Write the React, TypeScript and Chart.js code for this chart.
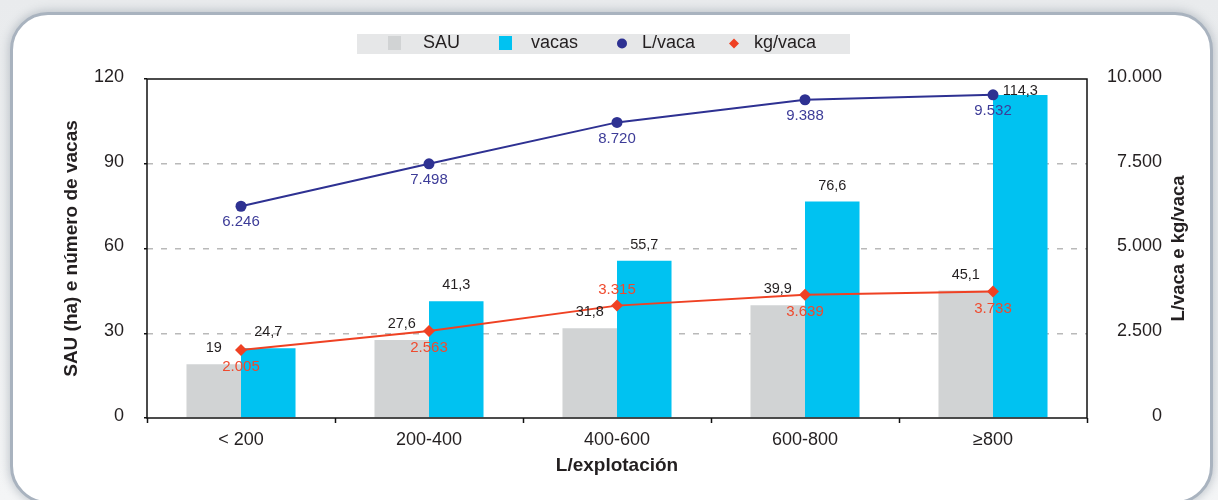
import React, { useEffect, useRef } from "react";
import { Chart, registerables } from "chart.js";

Chart.register(...registerables);

const categories = ["< 200", "200-400", "400-600", "600-800", "≥800"];
const sauValues = [19, 27.6, 31.8, 39.9, 45.1];
const vacasValues = [24.7, 41.3, 55.7, 76.6, 114.3];
const litrosVaca = [6246, 7498, 8720, 9388, 9532];
const kgVaca = [2005, 2563, 3315, 3639, 3733];
const leftTicks = [0, 30, 60, 90, 120];
const rightTicks = [0, 2500, 5000, 7500, 10000];
const kgLabelAbove = [false, false, true, false, false];

const FONT = "'Liberation Sans', Arial, Helvetica, sans-serif";
const TEXT = "#231f20";
const C_SAU = "#d1d3d4";
const C_VACAS = "#00c2f1";
const C_L = "#2e3192";
const C_L_TXT = "#3d3c98";
const C_KG = "#ef4123";
const C_KG_TXT = "#ef4a2e";

const fmtDec = (v: number) => String(v).replace(".", ",");
const fmtThousand = (v: number) =>
  String(Math.round(v)).replace(/\B(?=(\d{3})+(?!\d))/g, ".");

const overlayPlugin = {
  id: "overlay",
  afterDatasetsDraw(chart: any) {
    const ctx = chart.ctx as CanvasRenderingContext2D;
    const area = chart.chartArea;
    ctx.save();
    // plot box
    ctx.strokeStyle = "#111";
    ctx.lineWidth = 1.5;
    ctx.strokeRect(area.left, area.top, area.right - area.left, area.bottom - area.top);

    ctx.textAlign = "center";
    ctx.textBaseline = "middle";
    // bar labels
    ctx.font = `14.5px ${FONT}`;
    ctx.fillStyle = TEXT;
    [0, 1].forEach((di) => {
      const meta = chart.getDatasetMeta(di);
      meta.data.forEach((el: any, i: number) => {
        const v = chart.data.datasets[di].data[i] as number;
        const y = Math.max(el.y - 16, area.top + 12);
        ctx.fillText(fmtDec(v), el.x, y);
      });
    });
    // line labels
    ctx.font = `15px ${FONT}`;
    const mL = chart.getDatasetMeta(2);
    ctx.fillStyle = C_L_TXT;
    mL.data.forEach((el: any, i: number) => {
      ctx.fillText(fmtThousand(chart.data.datasets[2].data[i] as number), el.x, el.y + 16);
    });
    const mK = chart.getDatasetMeta(3);
    ctx.fillStyle = C_KG_TXT;
    mK.data.forEach((el: any, i: number) => {
      const y = kgLabelAbove[i] ? el.y - 16 : el.y + 17;
      ctx.fillText(fmtThousand(chart.data.datasets[3].data[i] as number), el.x, y);
    });
    ctx.restore();
  },
  afterDraw(chart: any) {
    const ctx = chart.ctx as CanvasRenderingContext2D;
    const area = chart.chartArea;
    ctx.save();
    // right axis title (reads bottom to top)
    ctx.translate(1179, (area.top + area.bottom) / 2);
    ctx.rotate(-Math.PI / 2);
    ctx.font = `bold 18.5px ${FONT}`;
    ctx.fillStyle = TEXT;
    ctx.textAlign = "center";
    ctx.textBaseline = "middle";
    ctx.fillText("L/vaca e kg/vaca", 0, 0);
    ctx.restore();

    // legend
    ctx.save();
    ctx.fillStyle = "#e6e7e8";
    ctx.fillRect(357, 34, 493, 20);
    ctx.font = `18px ${FONT}`;
    ctx.textAlign = "left";
    ctx.textBaseline = "alphabetic";
    ctx.fillStyle = C_SAU;
    ctx.fillRect(388, 36, 13, 14);
    ctx.fillStyle = C_VACAS;
    ctx.fillRect(499, 36, 13, 14);
    ctx.fillStyle = C_L;
    ctx.beginPath();
    ctx.arc(622, 43.5, 5, 0, Math.PI * 2);
    ctx.fill();
    ctx.fillStyle = C_KG;
    ctx.beginPath();
    ctx.moveTo(734, 38.5);
    ctx.lineTo(739, 43.5);
    ctx.lineTo(734, 48.5);
    ctx.lineTo(729, 43.5);
    ctx.closePath();
    ctx.fill();
    ctx.fillStyle = TEXT;
    ctx.fillText("SAU", 423, 48);
    ctx.fillText("vacas", 531, 48);
    ctx.fillText("L/vaca", 642, 48);
    ctx.fillText("kg/vaca", 754, 48);
    ctx.restore();
  },
};

export default function App() {
  const ref = useRef<HTMLCanvasElement | null>(null);

  useEffect(() => {
    if (!ref.current) return;
    const chart = new Chart(ref.current, {
      type: "bar",
      data: {
        labels: categories,
        datasets: [
          {
            type: "bar",
            label: "SAU",
            data: sauValues,
            backgroundColor: C_SAU,
            yAxisID: "y",
            order: 2,
          },
          {
            type: "bar",
            label: "vacas",
            data: vacasValues,
            backgroundColor: C_VACAS,
            yAxisID: "y",
            order: 2,
          },
          {
            type: "line",
            label: "L/vaca",
            data: litrosVaca,
            borderColor: C_L,
            backgroundColor: C_L,
            borderWidth: 2,
            pointStyle: "circle",
            pointRadius: 5.5,
            pointBackgroundColor: C_L,
            pointBorderWidth: 0,
            yAxisID: "y1",
            order: 0,
          },
          {
            type: "line",
            label: "kg/vaca",
            data: kgVaca,
            borderColor: C_KG,
            backgroundColor: C_KG,
            borderWidth: 2,
            pointStyle: "rectRot",
            pointRadius: 6,
            pointBackgroundColor: C_KG,
            pointBorderWidth: 0,
            yAxisID: "y1",
            order: 0,
          },
        ] as any,
      },
      options: {
        responsive: false,
        animation: false,
        events: [],
        layout: { padding: { top: 79, left: 0, right: 56, bottom: 0 } },
        plugins: {
          legend: { display: false },
          tooltip: { enabled: false },
        },
        datasets: {
          bar: { categoryPercentage: 0.58, barPercentage: 1.0 },
        } as any,
        scales: {
          x: {
            type: "category",
            offset: true,
            grid: {
              display: true,
              offset: true,
              drawOnChartArea: false,
              drawTicks: true,
              tickLength: 5,
              tickColor: "#111",
              tickWidth: 1.5,
              color: "#111",
            },
            border: { display: false },
            ticks: {
              color: TEXT,
              font: { family: FONT, size: 18 },
              padding: 6,
              maxRotation: 0,
            },
            title: {
              display: true,
              text: "L/explotación",
              color: TEXT,
              font: { family: FONT, size: 19, weight: "bold" },
              padding: { top: 0, bottom: 22.6 },
            },
            afterFit: (s: any) => {
              s.height = 82;
            },
          },
          y: {
            type: "linear",
            position: "left",
            min: 0,
            max: 120,
            afterBuildTicks: (s: any) => {
              s.ticks = leftTicks.map((v) => ({ value: v }));
            },
            grid: {
              color: (c: any) =>
                c.tick && (c.tick.value === 0 || c.tick.value === 120)
                  ? "rgba(0,0,0,0)"
                  : "#b9b9b9",
              lineWidth: 1.5,
              drawTicks: true,
              tickLength: 3,
              tickColor: "#111",
              tickWidth: 1.5,
              tickBorderDash: [],
            } as any,
            border: { display: false, dash: [6, 8] },
            ticks: {
              color: TEXT,
              font: { family: FONT, size: 18 },
              padding: 20,
              labelOffset: -2,
              callback: (v: any) => String(v),
            },
            title: {
              display: true,
              text: "SAU (ha) e número de vacas",
              color: TEXT,
              font: { family: FONT, size: 19, weight: "bold" },
              padding: { top: 60.6, bottom: 0 },
            },
            afterFit: (s: any) => {
              s.width = 147;
            },
          },
          y1: {
            type: "linear",
            position: "right",
            min: 0,
            max: 10000,
            afterBuildTicks: (s: any) => {
              s.ticks = rightTicks.map((v) => ({ value: v }));
            },
            grid: { display: false, drawOnChartArea: false, drawTicks: false },
            border: { display: false },
            ticks: {
              color: TEXT,
              font: { family: FONT, size: 18 },
              padding: 20,
              crossAlign: "far",
              labelOffset: -2,
              callback: (v: any) => fmtThousand(Number(v)),
            },
            afterFit: (s: any) => {
              s.width = 75;
            },
          },
        },
      } as any,
      plugins: [overlayPlugin],
    });
    return () => chart.destroy();
  }, []);

  return (
    <div
      style={{
        position: "fixed",
        left: 0,
        top: 0,
        width: 1218,
        height: 500,
        overflow: "hidden",
        background: "linear-gradient(#e9ebed, #f4f5f6)",
      }}
    >
      <div
        style={{
          position: "absolute",
          left: 10,
          top: 12,
          width: 1203,
          height: 492,
          boxSizing: "border-box",
          border: "3px solid #a9b3bf",
          borderRadius: 38,
          background: "#fff",
          boxShadow: "0 0 8px 2px rgba(140,150,162,0.45)",
        }}
      />
      <canvas
        ref={ref}
        width={1218}
        height={500}
        style={{ position: "absolute", left: 0, top: 0 }}
      />
    </div>
  );
}
